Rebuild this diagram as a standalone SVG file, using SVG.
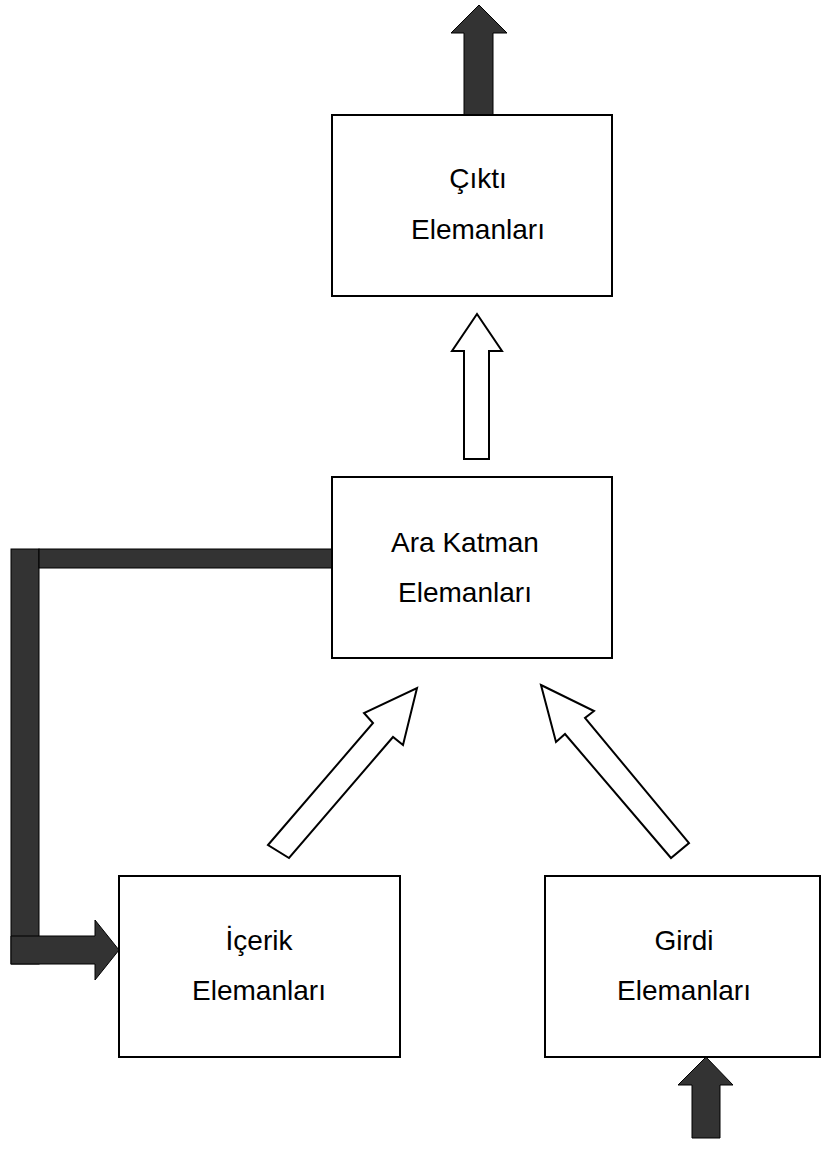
<svg xmlns="http://www.w3.org/2000/svg" width="821" height="1171" viewBox="0 0 821 1171">
<style>
.box{fill:#fff;stroke:#000;stroke-width:2}
.dark{fill:#333333;stroke:#000;stroke-width:1}
.hollow{fill:#fff;stroke:#000;stroke-width:2;stroke-linejoin:miter}
.t{font-family:"Liberation Sans",Arial,sans-serif;font-size:28px;fill:#000;text-anchor:middle}
</style>
<rect width="821" height="1171" fill="#fff"/>
<g id="connectors">
<polygon class="dark" points="464,115 464,33 451,33 479,5 507,33 493,33 493,115"/>
<polygon class="hollow" points="464,459 464,351 452,351 477,314 502,351 489,351 489,459"/>
<polygon class="hollow" points="268,845 373,723 364,713 417,688 403,745 393,737 289,858"/>
<polygon class="hollow" points="541,685 594,711 585,718 689,843 671,858 565,734 556,742"/>
<polygon class="dark" points="692,1138 692,1085 678,1085 706,1057 733,1085 720,1085 720,1138"/>
<rect class="dark" x="11" y="549" width="28" height="415"/>
<rect class="dark" x="39" y="549" width="293" height="19"/>
<polygon class="dark" points="11,936 95,936 95,920 119,950 95,980 95,964 11,964"/>
</g>
<g id="cikti">
<rect class="box" x="332" y="115" width="280" height="181"/>
<text class="t" x="478" y="188">Çıktı</text>
<text class="t" x="478" y="239">Elemanları</text>
</g>
<g id="ara">
<rect class="box" x="332" y="477" width="280" height="181"/>
<text class="t" x="465" y="552">Ara Katman</text>
<text class="t" x="465" y="602">Elemanları</text>
</g>
<g id="icerik">
<rect class="box" x="119" y="876" width="281" height="181"/>
<text class="t" x="259" y="950">İçerik</text>
<text class="t" x="259" y="1000">Elemanları</text>
</g>
<g id="girdi">
<rect class="box" x="545" y="876" width="275" height="181"/>
<text class="t" x="684" y="950">Girdi</text>
<text class="t" x="684" y="1000">Elemanları</text>
</g>
</svg>
